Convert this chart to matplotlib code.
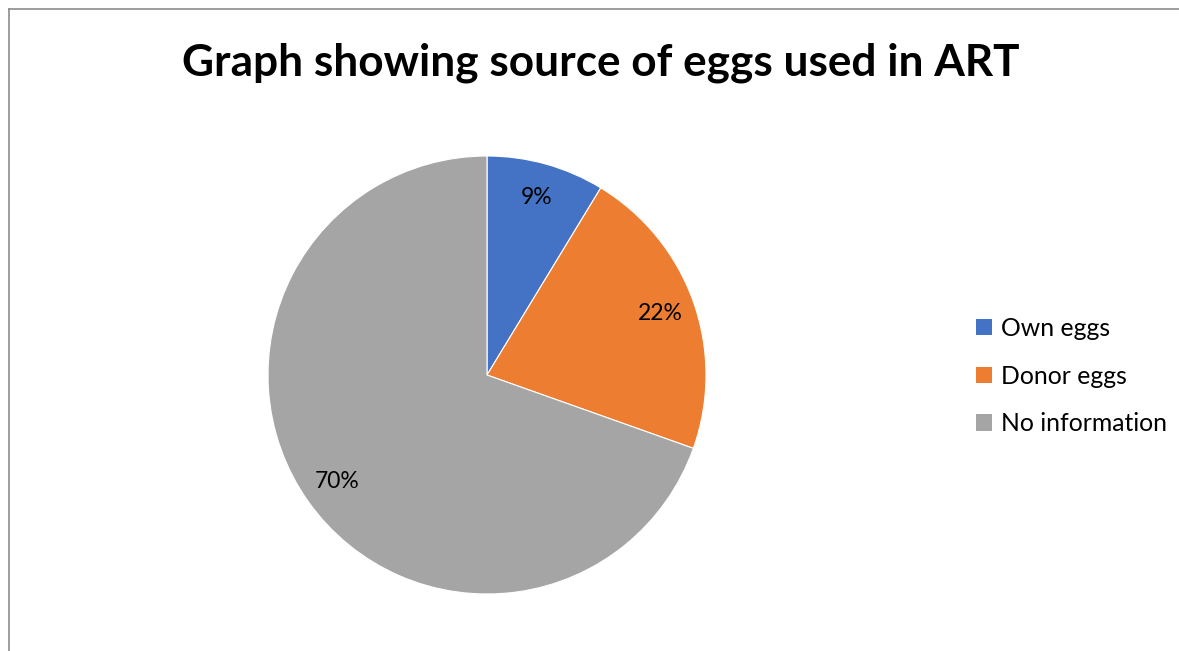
import matplotlib.pyplot as plt
from matplotlib.patches import Patch
from matplotlib.lines import Line2D

plt.rcParams['font.family'] = ['Lato', 'DejaVu Sans']

# data (counts giving 9% / 22% / 70%)
categories = ['Own eggs', 'Donor eggs', 'No information']
counts = [4, 10, 32]
colors = ['#4472C4', '#ED7D31', '#A5A5A5']

W, H = 1179, 651
fig = plt.figure(figsize=(W / 100, H / 100), dpi=100)

# chart-area border (left and top edges visible)
fig.add_artist(Line2D([9 / W, 9 / W], [0, 1 - 9 / H], color='#8c8c8c', lw=1.2))
fig.add_artist(Line2D([9 / W, 1], [1 - 9 / H, 1 - 9 / H], color='#8c8c8c', lw=1.2))

fig.text(601 / W, 1 - 63 / H, 'Graph showing source of eggs used in ART',
         ha='center', va='center', fontsize=31.8, fontweight='bold')

cx, cy, r = 487, 375, 219
ax = fig.add_axes([(cx - r) / W, (H - cy - r) / H, 2 * r / W, 2 * r / H])
wedges, texts, autotexts = ax.pie(counts, colors=colors, startangle=90, counterclock=False,
                                  autopct='%1.0f%%', pctdistance=0.84,
                                  wedgeprops=dict(edgecolor='white', linewidth=0.8),
                                  textprops=dict(fontsize=16.5, color='black'))
ax.set_xlim(-1, 1)
ax.set_ylim(-1, 1)
ax.axis('off')

handles = [Patch(facecolor=c, edgecolor='none') for c in colors]
fig.legend(handles, categories, loc='center left', bbox_to_anchor=(954 / W, 1 - 376 / H),
           frameon=False, fontsize=17.8, handlelength=0.65, handleheight=0.65,
           handletextpad=0.35, labelspacing=1.0)

fig.savefig('out.png', dpi=100)
